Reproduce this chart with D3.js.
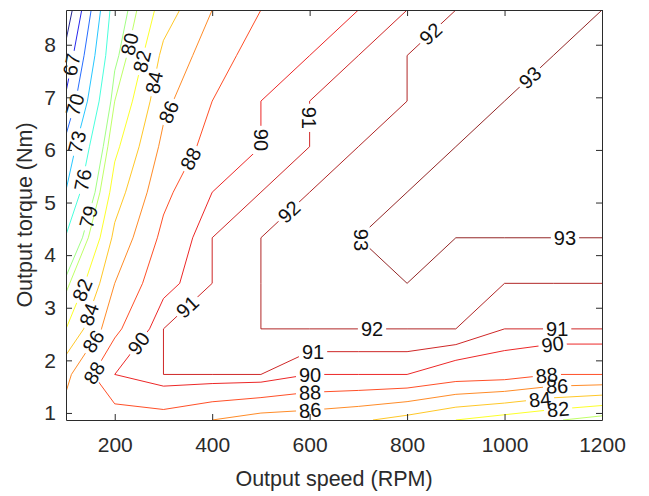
<!DOCTYPE html>
<html lang="en">
<head>
<meta charset="utf-8" />
<title>Efficiency map</title>
<style>
  body { margin: 0; background: #fff; }
  text { font-family: "Liberation Sans", Arial, Helvetica, sans-serif; }
</style>
</head>
<body>
<div id="chart"></div>
<script src="https://d3js.org/d3.v7.min.js"></script>
<script>
// grid of the measured map
const speeds = [100, 200, 300, 400, 500, 600, 700, 800, 900, 1000, 1100, 1200];
const torques = [0.866, 1.732, 2.598, 3.464, 4.330, 5.196, 6.062, 6.928, 7.794, 8.660];

// efficiency in %, one row per torque (bottom to top), one column per speed
const eff = [
  [86.8, 86.9, 87.1, 86.0, 85.1, 84.9, 84.3, 83.3, 82.0, 81.1, 80.2, 79.2],
  [85.5, 90.0, 91.0, 91.0, 91.0, 90.0, 90.0, 90.0, 89.1, 88.9, 88.0, 88.0],
  [82.0, 87.5, 91.0, 91.5, 92.0, 92.0, 92.0, 92.0, 92.0, 91.0, 91.0, 91.0],
  [79.5, 86.0, 89.5, 91.0, 92.0, 92.5, 92.5, 93.0, 92.5, 92.0, 92.0, 92.0],
  [76.2, 84.5, 88.5, 91.0, 92.0, 92.5, 93.0, 93.0, 93.0, 93.0, 93.0, 93.0],
  [73.1, 83.0, 87.5, 90.0, 91.0, 92.0, 92.5, 93.0, 93.0, 93.0, 93.0, 93.0],
  [70.9, 81.5, 86.5, 88.7, 90.0, 91.0, 92.0, 92.5, 93.0, 93.0, 93.0, 93.0],
  [67.5, 80.0, 85.5, 88.0, 90.0, 91.0, 91.5, 92.0, 92.5, 93.0, 93.0, 93.0],
  [65.0, 78.5, 84.5, 87.0, 89.0, 90.0, 91.0, 92.0, 92.0, 92.5, 93.0, 93.0],
  [62.0, 77.5, 83.0, 86.0, 88.0, 89.0, 90.0, 91.0, 92.0, 92.4, 92.7, 93.0]
];

const levels = [64, 67, 70, 73, 76, 79, 80, 82, 84, 86, 88, 90, 91, 92, 93];
const xTicks = [200, 400, 600, 800, 1000, 1200];
const yTicks = [1, 2, 3, 4, 5, 6, 7, 8];

// where the inline labels sit: [level, speed, torque, optional fixed angle]
const labelSpots = [
  [67, 112, 7.62], [70, 118, 6.86], [73, 123, 6.15], [76, 133, 5.43], [79, 145, 4.73],
  [80, 237, 8.0], [82, 262, 7.67], [84, 287, 7.27], [86, 324, 6.67], [88, 348, 5.87],
  [90, 488, 6.19], [91, 605, 6.61], [92, 847, 8.22], [93, 1048, 7.42], [92, 560, 4.8],
  [93, 709, 4.33, 90], [93, 1124, 4.33], [91, 350, 3.01], [90, 240, 2.39],
  [82, 133, 3.34], [84, 133, 2.92], [86, 143, 2.44], [88, 155, 1.78],
  [92, 728, 2.6], [91, 607, 2.1], [90, 601, 1.70], [88, 601, 1.38], [86, 601, 1.06],
  [91, 1108, 2.58], [90, 1099, 2.27], [88, 1087, 1.70], [86, 1108, 1.47], [84, 1073, 1.25], [82, 1110, 1.06]
];

const W = 649, H = 496;
const plot = { left: 66, right: 602, top: 10, bottom: 420 };
const ink = "#2b2b2b";
const fontSize = 21;

const svg = d3.select("#chart").append("svg")
  .attr("width", W)
  .attr("height", H);

const defs = svg.append("defs");
defs.append("clipPath").attr("id", "plotClip")
  .append("rect")
  .attr("x", plot.left).attr("y", plot.top)
  .attr("width", plot.right - plot.left).attr("height", plot.bottom - plot.top);

const x = d3.scaleLinear().domain([speeds[0], speeds[speeds.length - 1]]).range([plot.left, plot.right]);
const y = d3.scaleLinear().domain([torques[0], torques[torques.length - 1]]).range([plot.bottom, plot.top]);

// d3.contours puts sample i at i + 0.5
const nx = speeds.length, ny = torques.length;
const gridX = d3.scaleLinear().domain([0.5, nx - 0.5]).range([x(speeds[0]), x(speeds[nx - 1])]);
const gridY = d3.scaleLinear().domain([0.5, ny - 0.5]).range([y(torques[0]), y(torques[ny - 1])]);
const toPixels = d3.geoTransform({
  point(px, py) { this.stream.point(gridX(px), gridY(py)); }
});
const pathGen = d3.geoPath(toPixels);

const contours = d3.contours().size([nx, ny]).thresholds(levels)(eff.flat());

// matlab jet
const tScale = d3.scaleLinear().domain(d3.extent(levels)).range([0, 1]);
function jet(v) {
  const t = tScale(v);
  const c = k => Math.round(255 * Math.max(0, Math.min(1, 1.5 - Math.abs(4 * t - k))));
  return `rgb(${c(3)},${c(2)},${c(1)})`;
}

// nearest point on a level's line, with its direction
function snap(contour, px, py) {
  const inside = p => p[0] >= plot.left - 0.5 && p[0] <= plot.right + 0.5 &&
                      p[1] >= plot.top - 0.5 && p[1] <= plot.bottom + 0.5;
  let best = null;
  contour.coordinates.forEach(poly => poly.forEach(ring => {
    const pts = ring.map(p => [gridX(p[0]), gridY(p[1])]);
    for (let i = 1; i < pts.length; i++) {
      const a = pts[i - 1], b = pts[i];
      if (!inside(a) || !inside(b)) continue;
      const dx = b[0] - a[0], dy = b[1] - a[1], len2 = dx * dx + dy * dy;
      if (len2 < 1e-6) continue;
      const t = Math.max(0, Math.min(1, ((px - a[0]) * dx + (py - a[1]) * dy) / len2));
      const qx = a[0] + t * dx, qy = a[1] + t * dy;
      const d2 = (qx - px) ** 2 + (qy - py) ** 2;
      if (!best || d2 < best.d2) best = { d2, x: qx, y: qy, angle: Math.atan2(dy, dx) * 180 / Math.PI };
    }
  }));
  let a = best.angle;
  if (a > 90) a -= 180;
  if (a <= -90) a += 180;
  return { x: best.x, y: best.y, angle: a };
}

const byLevel = new Map(contours.map(c => [c.value, c]));
const placed = labelSpots.map(([level, s, t, fixed]) => {
  const p = snap(byLevel.get(level), x(s), y(t));
  if (fixed !== undefined) p.angle = fixed;
  return { level, ...p };
});
const labelled = new Set(placed.map(p => p.level));

// contour lines
svg.append("g")
  .attr("clip-path", "url(#plotClip)")
  .selectAll("path")
  .data(contours)
  .join("path")
  .attr("d", pathGen)
  .attr("fill", "none")
  .attr("stroke", d => jet(d.value))
  .attr("stroke-width", 1)
  .attr("stroke-opacity", 0.85)
  .attr("mask", d => labelled.has(d.value) ? `url(#gap${d.value})` : null);

// inline labels
const labels = svg.append("g")
  .selectAll("text")
  .data(placed)
  .join("text")
  .attr("transform", d => `translate(${d.x},${d.y}) rotate(${d.angle})`)
  .attr("text-anchor", "middle")
  .attr("dy", "0.36em")
  .attr("font-size", 20)
  .attr("fill", "#111")
  .text(d => d.level);

labels.each(function (d) { d.w = this.getComputedTextLength(); });

// each label only breaks its own line
d3.group(placed, d => d.level).forEach((items, level) => {
  const m = defs.append("mask")
    .attr("id", `gap${level}`)
    .attr("maskUnits", "userSpaceOnUse")
    .attr("x", 0).attr("y", 0).attr("width", W).attr("height", H);
  m.append("rect").attr("width", W).attr("height", H).attr("fill", "#fff");
  items.forEach(p => {
    m.append("rect")
      .attr("x", -p.w / 2 - 3).attr("y", -9)
      .attr("width", p.w + 6).attr("height", 18)
      .attr("transform", `translate(${p.x},${p.y}) rotate(${p.angle})`)
      .attr("fill", "#000");
  });
});

// axes, ticks inside on all four sides
function styleAxis(g) {
  g.select(".domain").attr("stroke", ink);
  g.selectAll(".tick line").attr("stroke", ink);
  g.selectAll(".tick text").attr("fill", ink).attr("font-size", fontSize)
    .attr("font-family", "'Liberation Sans', Arial, Helvetica, sans-serif");
}

svg.append("g")
  .attr("transform", `translate(0,${plot.bottom})`)
  .call(d3.axisBottom(x).tickValues(xTicks).tickFormat(d3.format("d"))
    .tickSize(-6).tickSizeOuter(0).tickPadding(17))
  .call(styleAxis);

svg.append("g")
  .attr("transform", `translate(0,${plot.top})`)
  .call(d3.axisTop(x).tickValues(xTicks).tickSize(-6).tickSizeOuter(0).tickFormat(""))
  .call(styleAxis);

svg.append("g")
  .attr("transform", `translate(${plot.left},0)`)
  .call(d3.axisLeft(y).tickValues(yTicks).tickFormat(d3.format("d"))
    .tickSize(-6).tickSizeOuter(0).tickPadding(10))
  .call(styleAxis);

svg.append("g")
  .attr("transform", `translate(${plot.right},0)`)
  .call(d3.axisRight(y).tickValues(yTicks).tickSize(-6).tickSizeOuter(0).tickFormat(""))
  .call(styleAxis);

svg.append("text")
  .attr("x", (plot.left + plot.right) / 2)
  .attr("y", 486)
  .attr("text-anchor", "middle")
  .attr("font-size", 21.5)
  .attr("fill", ink)
  .text("Output speed (RPM)");

svg.append("text")
  .attr("transform", `translate(32,${(plot.top + plot.bottom) / 2}) rotate(-90)`)
  .attr("text-anchor", "middle")
  .attr("font-size", 21.5)
  .attr("fill", ink)
  .text("Output torque (Nm)");
</script>
</body>
</html>
